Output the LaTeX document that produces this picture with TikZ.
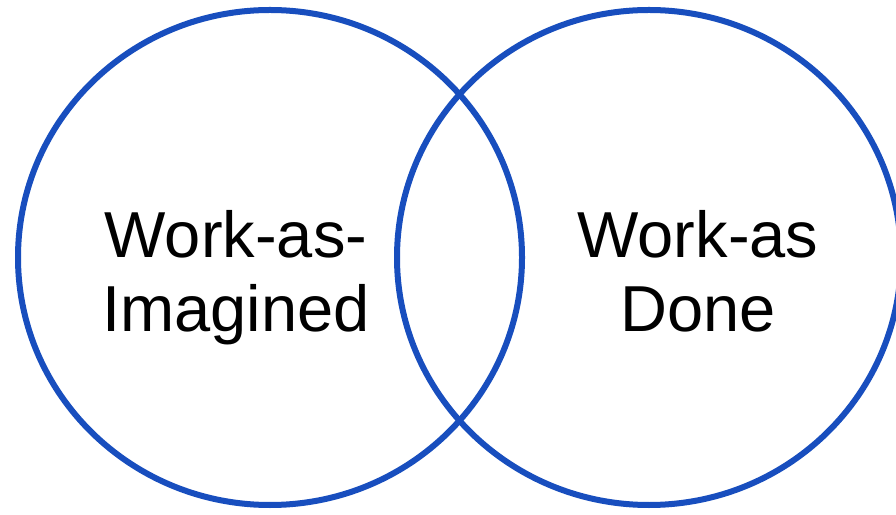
\documentclass[tikz,border=0pt]{standalone}
\usepackage{fontspec}
\setmainfont{Liberation Sans}
\definecolor{vennblue}{RGB}{24,78,190}
\begin{document}
\begin{tikzpicture}[x=1pt,y=1pt,
  ring/.style={draw=vennblue,line width=6pt},
  lbl/.style={anchor=base,inner sep=0pt,font=\fontsize{65}{74}\selectfont,text=black}]
\useasboundingbox (0,0) rectangle (896,514);
\fill[white] (0,0) rectangle (896,514);
\draw[ring] (270,256.5) ellipse [x radius=252, y radius=247.5];
\draw[ring] (649,256.5) ellipse [x radius=252, y radius=247.5];
\node[lbl] (waiA) at (236,256) {Work-as-};
\node[lbl] (waiB) at (236,182) {Imagined};
\node[lbl] (wadA) at (698,256) {Work-as};
\node[lbl] (wadB) at (698,182) {Done};
\end{tikzpicture}
\end{document}
